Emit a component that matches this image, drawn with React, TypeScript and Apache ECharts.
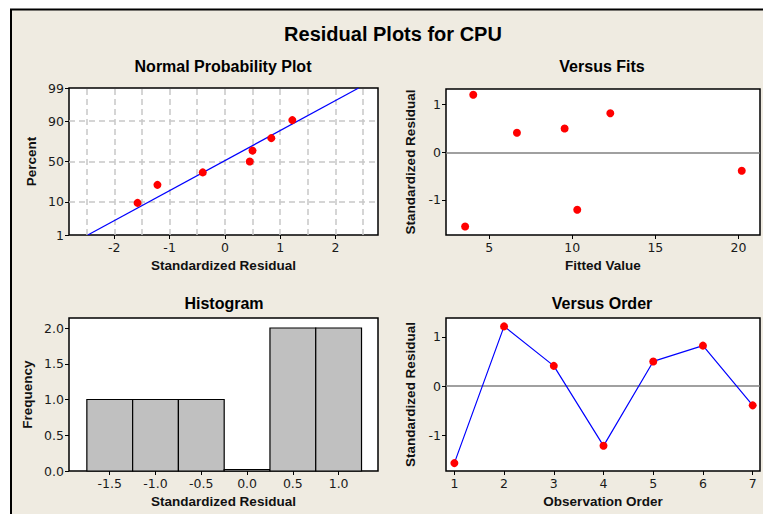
import React, { useEffect, useRef } from "react";
import * as echarts from "echarts";

// ---------- data ----------
const observationOrder = [1, 2, 3, 4, 5, 6, 7];
const residuals = [-1.56, 1.21, 0.41, -1.21, 0.5, 0.82, -0.39];
const fittedValues = [3.55, 4.04, 6.67, 10.3, 9.54, 12.29, 20.2];

const nppResidual = [-1.58, -1.22, -0.4, 0.45, 0.5, 0.84, 1.22];
const nppPercent = [9.5, 23.0, 36.5, 50.0, 63.5, 77.0, 90.5];
const nppFitX = [-2.48, 2.42];
const nppFitPercent = [1, 99];
const nppTickPercents = [1, 10, 50, 90, 99];
const nppGridPercents = [10, 50, 90];
const nppTickX = [-2, -1, 0, 1, 2];
const nppGridX = [-2.5, -2, -1.5, -1, -0.5, 0, 0.5, 1, 1.5, 2, 2.5];

const binCenters = [-1.5, -1.0, -0.5, 0.0, 0.5, 1.0];
const binWidth = 0.5;
const frequency = [1, 1, 1, 0, 2, 2];
const histTickX = [-1.5, -1.0, -0.5, 0.0, 0.5, 1.0];
const histTickY = [0, 0.5, 1.0, 1.5, 2.0];

const fitsTickX = [5, 10, 15, 20];
const residTickY = [-1, 0, 1];

// inverse standard normal CDF (Acklam)
function probit(p: number): number {
  const a = [-3.969683028665376e1, 2.209460984245205e2, -2.759285104469687e2, 1.38357751867269e2, -3.066479806614716e1, 2.506628277459239];
  const b = [-5.447609879822406e1, 1.615858368580409e2, -1.556989798598866e2, 6.680131188771972e1, -1.328068155288572e1];
  const c = [-7.784894002430293e-3, -3.223964580411365e-1, -2.400758277161838, -2.549732539343734, 4.374664141464968, 2.938163982698783];
  const d = [7.784695709041462e-3, 3.224671290700398e-1, 2.445134137142996, 3.754408661907416];
  const pl = 0.02425;
  if (p < pl) {
    const q = Math.sqrt(-2 * Math.log(p));
    return (((((c[0] * q + c[1]) * q + c[2]) * q + c[3]) * q + c[4]) * q + c[5]) / ((((d[0] * q + d[1]) * q + d[2]) * q + d[3]) * q + 1);
  }
  if (p <= 1 - pl) {
    const q = p - 0.5;
    const r = q * q;
    return ((((((a[0] * r + a[1]) * r + a[2]) * r + a[3]) * r + a[4]) * r + a[5]) * q) / (((((b[0] * r + b[1]) * r + b[2]) * r + b[3]) * r + b[4]) * r + 1);
  }
  const q = Math.sqrt(-2 * Math.log(1 - p));
  return -(((((c[0] * q + c[1]) * q + c[2]) * q + c[3]) * q + c[4]) * q + c[5]) / ((((d[0] * q + d[1]) * q + d[2]) * q + d[3]) * q + 1);
}

const BOLD_FONT = "'Liberation Sans', Arial, sans-serif";
const TICK_FONT = "'DejaVu Sans', Verdana, sans-serif";
const BG = "#EFEBE1";

function makeAxis(opts: {
  gridIndex: number;
  min: number;
  max: number;
  ticks: number[];
  fmt: (v: number) => string;
  name: string;
  nameGap: number;
  isY?: boolean;
}) {
  return {
    type: "value",
    gridIndex: opts.gridIndex,
    min: opts.min,
    max: opts.max,
    axisLine: { show: false, onZero: false },
    axisTick: {
      show: true,
      inside: false,
      length: 4,
      customValues: opts.ticks,
      lineStyle: { color: "#000", width: 1 },
    },
    axisLabel: {
      customValues: opts.ticks,
      formatter: (v: number) => opts.fmt(v),
      color: "#1a1a1a",
      fontSize: 12.5,
      fontFamily: TICK_FONT,
      margin: opts.isY ? 5 : 6,
      showMinLabel: true,
      showMaxLabel: true,
    },
    splitLine: { show: false },
    name: opts.name,
    nameLocation: "middle",
    nameGap: opts.nameGap,
    nameTextStyle: { fontWeight: "bold", fontSize: 13.5, color: "#111", fontFamily: BOLD_FONT },
  };
}

export default function App() {
  const ref = useRef<HTMLDivElement>(null);
  useEffect(() => {
    if (!ref.current) return;
    const chart = echarts.init(ref.current, undefined, { renderer: "svg" });

    const gridStyle = { show: true, backgroundColor: "#fff", borderColor: "#000", borderWidth: 1.5 };
    const grids = [
      { left: 69, top: 88, width: 309, height: 147, ...gridStyle },
      { left: 446, top: 89, width: 314, height: 146, ...gridStyle },
      { left: 69, top: 318, width: 309, height: 153, ...gridStyle },
      { left: 446, top: 318, width: 314, height: 153, ...gridStyle },
    ];

    const nppTickZ = nppTickPercents.map((p) => probit(p / 100));
    const fmtPercent = (v: number) => {
      const i = nppTickZ.findIndex((z) => Math.abs(z - v) < 1e-6);
      return i >= 0 ? String(nppTickPercents[i]) : "";
    };

    const xAxes = [
      makeAxis({ gridIndex: 0, min: -2.82, max: 2.77, ticks: nppTickX, fmt: (v) => String(v), name: "Standardized Residual", nameGap: 23 }),
      makeAxis({ gridIndex: 1, min: 2.4, max: 21.3, ticks: fitsTickX, fmt: (v) => String(v), name: "Fitted Value", nameGap: 23 }),
      makeAxis({ gridIndex: 2, min: -1.945, max: 1.43, ticks: histTickX, fmt: (v) => v.toFixed(1), name: "Standardized Residual", nameGap: 23 }),
      makeAxis({ gridIndex: 3, min: 0.832, max: 7.147, ticks: observationOrder, fmt: (v) => String(v), name: "Observation Order", nameGap: 23 }),
    ];
    const yAxes = [
      makeAxis({ gridIndex: 0, min: probit(0.01), max: probit(0.99), ticks: nppTickZ, fmt: fmtPercent, name: "Percent", nameGap: 31, isY: true }),
      makeAxis({ gridIndex: 1, min: -1.74, max: 1.33, ticks: residTickY, fmt: (v) => String(v), name: "Standardized Residual", nameGap: 29, isY: true }),
      makeAxis({ gridIndex: 2, min: 0, max: 2.14, ticks: histTickY, fmt: (v) => v.toFixed(1), name: "Frequency", nameGap: 35, isY: true }),
      makeAxis({ gridIndex: 3, min: -1.72, max: 1.38, ticks: residTickY, fmt: (v) => String(v), name: "Standardized Residual", nameGap: 29, isY: true }),
    ];

    const dashGrid = { color: "#C8C8C8", width: 1.5, type: [6, 4] };
    const zeroLine = { color: "#808080", width: 1.5, type: "solid" };

    const titleText = (text: string, x: number, y: number, size: number) => ({
      type: "text",
      x,
      y,
      z: 100,
      style: {
        text,
        fill: "#000",
        fontSize: size,
        fontWeight: "bold",
        fontFamily: BOLD_FONT,
        align: "center",
        verticalAlign: "middle",
      },
    });

    const dot = { color: "#FF0000", opacity: 1 };

    const option: any = {
      animation: false,
      backgroundColor: "#fff",
      graphic: [
        {
          type: "rect",
          z: -100,
          shape: { x: 11, y: 9.5, width: 800, height: 600 },
          style: { fill: BG, stroke: "#000", lineWidth: 2 },
        },
        titleText("Residual Plots for CPU", 393, 34, 20),
        titleText("Normal Probability Plot", 223, 66, 16),
        titleText("Versus Fits", 602, 66, 16),
        titleText("Histogram", 224, 303, 16),
        titleText("Versus Order", 602, 303, 16),
      ],
      grid: grids,
      xAxis: xAxes,
      yAxis: yAxes,
      series: [
        // Normal probability plot: fitted line + grid
        {
          type: "line",
          xAxisIndex: 0,
          yAxisIndex: 0,
          data: nppFitX.map((x, i) => [x, probit(nppFitPercent[i] / 100)]),
          symbol: "none",
          lineStyle: { color: "#0000FF", width: 1.2 },
          z: 3,
          markLine: {
            silent: true,
            symbol: "none",
            label: { show: false },
            lineStyle: dashGrid,
            z: 1,
            data: [
              ...nppGridX.map((x) => ({ xAxis: x })),
              ...nppGridPercents.map((p) => ({ yAxis: probit(p / 100) })),
            ],
          },
        },
        {
          type: "scatter",
          xAxisIndex: 0,
          yAxisIndex: 0,
          data: nppResidual.map((x, i) => [x, probit(nppPercent[i] / 100)]),
          symbol: "circle",
          symbolSize: 8,
          itemStyle: dot,
          z: 5,
        },
        // Versus fits
        {
          type: "scatter",
          xAxisIndex: 1,
          yAxisIndex: 1,
          data: fittedValues.map((f, i) => [f, residuals[i]]),
          symbol: "circle",
          symbolSize: 8,
          itemStyle: dot,
          z: 5,
          markLine: {
            silent: true,
            symbol: "none",
            label: { show: false },
            lineStyle: zeroLine,
            data: [{ yAxis: 0 }],
          },
        },
        // Histogram
        {
          type: "custom",
          xAxisIndex: 2,
          yAxisIndex: 2,
          z: 3,
          data: binCenters.map((c, i) => [c, frequency[i]]),
          renderItem: (params: any, api: any) => {
            const c = api.value(0);
            const f = api.value(1);
            const p0 = api.coord([c - binWidth / 2, f]);
            const p1 = api.coord([c + binWidth / 2, 0]);
            const h = Math.max(p1[1] - p0[1], 1.5);
            return {
              type: "rect",
              shape: { x: p0[0], y: p1[1] - h, width: p1[0] - p0[0], height: h },
              style: { fill: "#C0C0C0", stroke: "#000", lineWidth: 1.2 },
            };
          },
        },
        // Versus order
        {
          type: "line",
          xAxisIndex: 3,
          yAxisIndex: 3,
          data: observationOrder.map((o, i) => [o, residuals[i]]),
          symbol: "circle",
          symbolSize: 8,
          showSymbol: true,
          itemStyle: dot,
          lineStyle: { color: "#0000FF", width: 1.2 },
          z: 5,
          markLine: {
            silent: true,
            symbol: "none",
            label: { show: false },
            lineStyle: zeroLine,
            z: 1,
            data: [{ yAxis: 0 }],
          },
        },
      ],
    };

    chart.setOption(option);
    return () => chart.dispose();
  }, []);

  return <div ref={ref} style={{ position: "absolute", left: 0, top: 0, width: 763, height: 514 }} />;
}
